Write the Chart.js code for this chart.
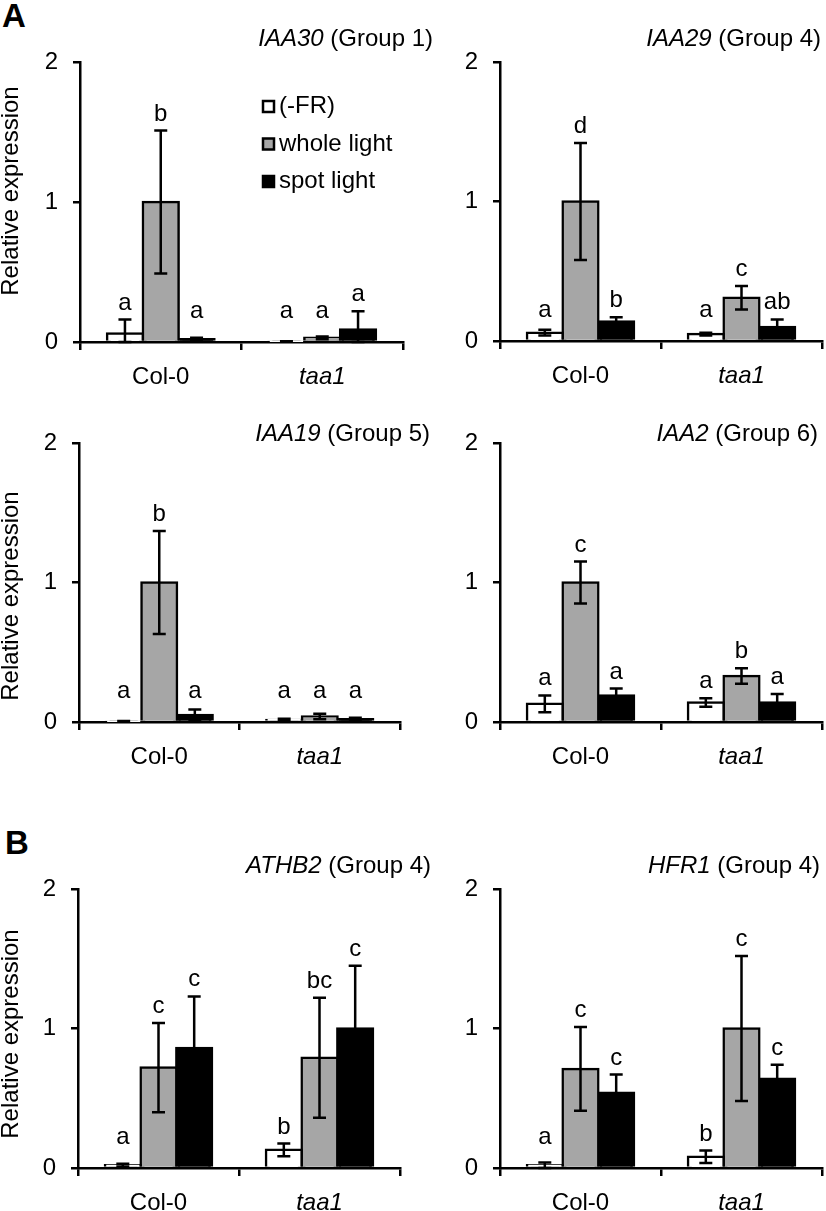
<!DOCTYPE html>
<html>
<head>
<meta charset="utf-8">
<script src="https://cdn.jsdelivr.net/npm/chart.js@4.4.1/dist/chart.umd.min.js"></script>
<style>
  html, body { margin: 0; padding: 0; background: #fff; overflow: hidden; }
  #fig { position: relative; width: 826px; height: 1211px; }
  canvas { position: absolute; }
  .tag { position: absolute; font: bold 33px "Liberation Sans", Arial, sans-serif; line-height: 1; color: #000; }
</style>
</head>
<body>
<div id="fig">
  <div class="tag" style="left:2px;top:-1px">A</div>
  <div class="tag" style="left:5px;top:826px">B</div>
</div>
<script>
const categories = ['Col-0', 'taa1']
const seriesNames = ['(-FR)', 'whole light', 'spot light']
const yTicks = [0, 1, 2]
const genes = ['IAA30', 'IAA29', 'IAA19', 'IAA2', 'ATHB2', 'HFR1']
const groups = ['(Group 1)', '(Group 4)', '(Group 5)', '(Group 6)', '(Group 4)', '(Group 4)']

// rows: (-FR), whole light, spot light; columns: Col-0, taa1
const iaa30Mean = [[0.06, 0.003], [1.00, 0.03], [0.02, 0.09]]
const iaa30Err = [[0.10, 0.002], [0.51, 0.01], [0.01, 0.13]]
const iaa30Letters = [['a', 'a'], ['b', 'a'], ['a', 'a']]

const iaa29Mean = [[0.06, 0.05], [1.00, 0.31], [0.14, 0.10]]
const iaa29Err = [[0.02, 0.01], [0.42, 0.085], [0.03, 0.055]]
const iaa29Letters = [['a', 'a'], ['d', 'c'], ['b', 'ab']]

const iaa19Mean = [[0.005, 0.015], [1.00, 0.04], [0.05, 0.02]]
const iaa19Err = [[0.003, 0.008], [0.37, 0.02], [0.04, 0.01]]
const iaa19Letters = [['a', 'a'], ['b', 'a'], ['a', 'a']]

const iaa2Mean = [[0.13, 0.14], [1.00, 0.33], [0.19, 0.14]]
const iaa2Err = [[0.06, 0.03], [0.15, 0.055], [0.05, 0.06]]
const iaa2Letters = [['a', 'a'], ['c', 'b'], ['a', 'a']]

const athb2Mean = [[0.02, 0.13], [0.72, 0.79], [0.86, 1.00]]
const athb2Err = [[0.01, 0.045], [0.32, 0.43], [0.37, 0.45]]
const athb2Letters = [['a', 'b'], ['c', 'bc'], ['c', 'c']]

const hfr1Mean = [[0.02, 0.08], [0.71, 1.00], [0.54, 0.64]]
const hfr1Err = [[0.02, 0.045], [0.30, 0.52], [0.13, 0.10]]
const hfr1Letters = [['a', 'b'], ['c', 'c'], ['c', 'c']]

const means = [iaa30Mean, iaa29Mean, iaa19Mean, iaa2Mean, athb2Mean, hfr1Mean]
const errs = [iaa30Err, iaa29Err, iaa19Err, iaa2Err, athb2Err, hfr1Err]
const letters = [iaa30Letters, iaa29Letters, iaa19Letters, iaa2Letters, athb2Letters, hfr1Letters]

const FONT = '"Liberation Sans", Arial, sans-serif'
const fills = ['#ffffff', '#a6a6a6', '#000000']
const italicLabels = new Set(['taa1'])
const LW = 2.5

// canvas box (cx,cy,cw,ch) and plot area (L,T,R,B), all in page pixels
const panels = [
  { cx: 0, cy: 0, cw: 440, ch: 400, L: 80, T: 62, R: 403, B: 342, titleRight: 433, titleBase: 46, yTitle: 191, legend: true },
  { cx: 413, cy: 0, cw: 413, ch: 400, L: 500, T: 62, R: 822, B: 341, titleRight: 821, titleBase: 46 },
  { cx: 0, cy: 400, cw: 440, ch: 400, L: 79, T: 443, R: 400, B: 722, titleRight: 430, titleBase: 441, yTitle: 596 },
  { cx: 413, cy: 400, cw: 413, ch: 400, L: 500, T: 443, R: 822, B: 722, titleRight: 818, titleBase: 441 },
  { cx: 0, cy: 800, cw: 440, ch: 411, L: 78, T: 889, R: 400, B: 1168, titleRight: 431, titleBase: 873, yTitle: 1034 },
  { cx: 413, cy: 800, cw: 413, ch: 411, L: 500, T: 889, R: 822, B: 1168, titleRight: 820, titleBase: 873 },
]

const decor = {
  id: 'decor',
  afterDatasetsDraw(chart, args, opts) {
    const ctx = chart.ctx
    const y = chart.scales.y
    const base = y.getPixelForValue(0)
    ctx.save()
    ctx.strokeStyle = '#000'
    ctx.lineWidth = LW
    ctx.fillStyle = '#000'
    ctx.font = '24px ' + FONT
    ctx.textAlign = 'center'
    ctx.textBaseline = 'alphabetic'
    chart.data.datasets.forEach((ds, i) => {
      chart.getDatasetMeta(i).data.forEach((bar, j) => {
        const v = ds.data[j], e = ds.err[j]
        const hi = y.getPixelForValue(v + e)
        const lo = y.getPixelForValue(Math.max(v - e, 0))
        ctx.beginPath()
        ctx.moveTo(bar.x, lo); ctx.lineTo(bar.x, hi)
        ctx.moveTo(bar.x - 6.5, hi); ctx.lineTo(bar.x + 6.5, hi)
        ctx.moveTo(bar.x - 6.5, lo); ctx.lineTo(bar.x + 6.5, lo)
        ctx.stroke()
        const ty = Math.min(hi - 10, base - 24)
        ctx.fillText(ds.letters[j], bar.x, ty)
      })
    })
    ctx.restore()
  },
  afterDraw(chart, args, opts) {
    const p = opts.panel
    const ctx = chart.ctx
    ctx.save()
    ctx.fillStyle = '#000'
    ctx.textBaseline = 'alphabetic'
    // title: italic gene name + regular group
    ctx.font = '24px ' + FONT
    const rest = ' ' + opts.group
    const w = ctx.measureText(rest).width
    ctx.textAlign = 'right'
    ctx.fillText(rest, p.titleRight - p.cx, p.titleBase - p.cy)
    ctx.font = 'italic 24px ' + FONT
    ctx.fillText(opts.gene, p.titleRight - p.cx - w, p.titleBase - p.cy)
    // y axis title
    if (p.yTitle) {
      ctx.save()
      ctx.translate(18 - p.cx, p.yTitle - p.cy)
      ctx.rotate(-Math.PI / 2)
      ctx.font = '24px ' + FONT
      ctx.textAlign = 'center'
      ctx.fillText('Relative expression', 0, 0)
      ctx.restore()
    }
    // legend
    if (p.legend) {
      ctx.font = '24px ' + FONT
      ctx.textAlign = 'left'
      ctx.lineWidth = LW
      ctx.strokeStyle = '#000'
      chart.data.datasets.forEach((ds, i) => {
        const b = 113 + i * 37.5 - p.cy
        const x = 262 - p.cx
        ctx.fillStyle = ds.backgroundColor
        ctx.fillRect(x + 1, b - 12, 11, 11)
        ctx.strokeRect(x + 1, b - 12, 11, 11)
        ctx.fillStyle = '#000'
        ctx.fillText(ds.label, 279 - p.cx, b)
      })
    }
    ctx.restore()
  }
}

const fig = document.getElementById('fig')

panels.forEach((p, k) => {
  const cv = document.createElement('canvas')
  cv.width = p.cw
  cv.height = p.ch
  cv.style.left = p.cx + 'px'
  cv.style.top = p.cy + 'px'
  fig.appendChild(cv)

  const axisGrid = { display: true, drawOnChartArea: false, drawTicks: true, color: '#000', lineWidth: LW }

  new Chart(cv, {
    type: 'bar',
    data: {
      labels: categories,
      datasets: seriesNames.map((name, s) => ({
        label: name,
        data: means[k][s],
        err: errs[k][s],
        letters: letters[k][s],
        backgroundColor: fills[s],
        borderColor: '#000',
        borderWidth: LW,
        borderSkipped: 'start',
        inflateAmount: 1.25,
        categoryPercentage: 0.665,
        barPercentage: 1,
      })),
    },
    options: {
      responsive: false,
      animation: false,
      devicePixelRatio: 1,
      layout: { padding: { left: 0, top: p.T - p.cy, right: p.cx + p.cw - p.R, bottom: 0 } },
      plugins: {
        legend: { display: false },
        tooltip: { enabled: false },
        decor: { panel: p, gene: genes[k], group: groups[k] },
      },
      scales: {
        x: {
          z: 1,
          afterFit: (s) => { s.height = p.cy + p.ch - p.B },
          grid: { ...axisGrid, offset: true, tickLength: 8 },
          border: { display: true, color: '#000', width: LW },
          ticks: {
            color: '#000',
            padding: 13,
            font: (c) => ({ family: FONT, size: 24, style: italicLabels.has(categories[c.index]) ? 'italic' : 'normal' }),
          },
        },
        y: {
          min: 0,
          max: 2,
          afterBuildTicks: (s) => { s.ticks = yTicks.map((v) => ({ value: v })) },
          afterFit: (s) => { s.width = p.L - p.cx },
          grid: { ...axisGrid, tickLength: 7 },
          border: { display: true, color: '#000', width: LW },
          ticks: { color: '#000', padding: 15, font: { family: FONT, size: 24 } },
        },
      },
    },
    plugins: [decor],
  })
})
</script>
</body>
</html>
